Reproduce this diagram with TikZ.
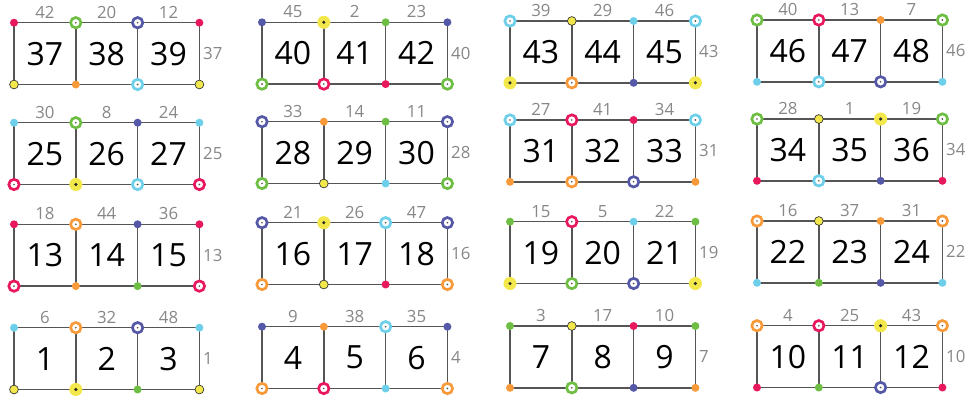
\documentclass[tikz,border=0pt]{standalone}
\usepackage{fontspec}
\setmainfont{Open Sans}
\usetikzlibrary{calc}
\definecolor{cR}{HTML}{E8185C}
\definecolor{cG}{HTML}{6EBE44}
\definecolor{cB}{HTML}{5558A6}
\definecolor{cC}{HTML}{6DCFEA}
\definecolor{cO}{HTML}{F89A3A}
\definecolor{cY}{HTML}{F2E84B}
\definecolor{edgec}{HTML}{555555}
\definecolor{lblc}{HTML}{878787}
\tikzset{
 edgeline/.style={draw=edgec, line width=1.1pt},
 bignum/.style={font=\fontsize{24}{28}\selectfont, text=black, inner sep=0pt},
 toplbl/.style={font=\fontsize{12.6}{15}\selectfont, text=lblc, inner sep=0pt},
 sidelbl/.style={font=\fontsize{12.6}{15}\selectfont, text=lblc, inner sep=0pt, anchor=west},
 fdot/.style={circle, fill=#1, inner sep=0pt, minimum size=6pt},
 rdot/.style={circle, draw=#1, line width=2pt, fill=white, inner sep=0pt, minimum size=7.8pt,
   path picture={\fill[edgec] (path picture bounding box.center) circle (0.7pt);}},
 fR/.style={fdot=cR}, fG/.style={fdot=cG}, fB/.style={fdot=cB},
 fC/.style={fdot=cC}, fO/.style={fdot=cO},
 rR/.style={rdot=cR}, rG/.style={rdot=cG}, rB/.style={rdot=cB},
 rC/.style={rdot=cC}, rO/.style={rdot=cO},
 yy/.style={circle, fill=cY, draw=black!80, line width=0.5pt, inner sep=0pt, minimum size=6.6pt},
 YY/.style={circle, fill=cY, inner sep=0pt, minimum size=9.8pt,
   path picture={\fill[black!85] (path picture bounding box.center) circle (1.3pt);}},
}
\def\sqw{61.8}
\def\sqh{61.8}
% #1 id, #2 x, #3 y, #4 first number
\newcommand\grp[4]{%
 \foreach \i in {0,...,3}{%
   \coordinate (#1t\i) at ({#2+\i*\sqw},#3);
   \coordinate (#1b\i) at ({#2+\i*\sqw},{#3+\sqh});
 }
 \draw[edgeline] (#1t0) -- (#1t3) -- (#1b3) -- (#1b0) -- cycle;
 \draw[edgeline] (#1t1) -- (#1b1) (#1t2) -- (#1b2);
 \node[bignum] (#1n0) at ({#2+0.5*\sqw},{#3+0.5*\sqh}) {#4};
 \node[bignum] (#1n1) at ({#2+1.5*\sqw},{#3+0.5*\sqh}) {\the\numexpr#4+1\relax};
 \node[bignum] (#1n2) at ({#2+2.5*\sqw},{#3+0.5*\sqh}) {\the\numexpr#4+2\relax};
 \node[sidelbl] (#1s) at ({#2+3*\sqw+3.5},{#3+0.5*\sqh}) {#4};
}
% #1 id, #2 #3 #4 top labels
\newcommand\tops[4]{%
 \node[toplbl] (#1l0) at ($(#1t0)!0.5!(#1t1)+(0,-10.5)$) {#2};
 \node[toplbl] (#1l1) at ($(#1t1)!0.5!(#1t2)+(0,-10.5)$) {#3};
 \node[toplbl] (#1l2) at ($(#1t2)!0.5!(#1t3)+(0,-10.5)$) {#4};
}
% #1 id, #2-#5 top dots, #6-#9 bottom dots
\newcommand\crn[9]{%
 \node[#2] (#1dt0) at (#1t0) {};
 \node[#3] (#1dt1) at (#1t1) {};
 \node[#4] (#1dt2) at (#1t2) {};
 \node[#5] (#1dt3) at (#1t3) {};
 \node[#6] (#1db0) at (#1b0) {};
 \node[#7] (#1db1) at (#1b1) {};
 \node[#8] (#1db2) at (#1b2) {};
 \node[#9] (#1db3) at (#1b3) {};
}
\begin{document}
\begin{tikzpicture}[x=0.75pt,y=-0.75pt]
\useasboundingbox (0,0) rectangle (969,400);
% row 1
\grp{a}{14}{22.7}{37}   \tops{a}{42}{20}{12}
\crn{a}{fR}{rG}{rB}{fR}{yy}{fO}{rC}{yy}
\grp{b}{262}{22.3}{40}  \tops{b}{45}{2}{23}
\crn{b}{fB}{YY}{fG}{fB}{rG}{rR}{fR}{rG}
\grp{c}{510}{21}{43}    \tops{c}{39}{29}{46}
\crn{c}{rC}{yy}{fC}{rC}{YY}{rO}{fB}{YY}
\grp{d}{757}{20}{46}    \tops{d}{40}{13}{7}
\crn{d}{rG}{rR}{fO}{rG}{fC}{rC}{rB}{fC}
% row 2
\grp{e}{14}{122.7}{25}  \tops{e}{30}{8}{24}
\crn{e}{fC}{rG}{fB}{fC}{rR}{YY}{rC}{rR}
\grp{f}{262}{121.7}{28} \tops{f}{33}{14}{11}
\crn{f}{rB}{fO}{fG}{rB}{rG}{yy}{fC}{rG}
\grp{g}{510}{120}{31}   \tops{g}{27}{41}{34}
\crn{g}{rC}{rR}{fR}{rC}{fO}{rO}{rB}{fO}
\grp{h}{757}{119}{34}   \tops{h}{28}{1}{19}
\crn{h}{rG}{yy}{YY}{rG}{fR}{rC}{fB}{fR}
% row 3
\grp{i}{14}{224.3}{13}  \tops{i}{18}{44}{36}
\crn{i}{fR}{rO}{fB}{fR}{rR}{fO}{fG}{rR}
\grp{j}{262}{222.7}{16} \tops{j}{21}{26}{47}
\crn{j}{rB}{YY}{rC}{rB}{rO}{yy}{fR}{rO}
\grp{k}{510}{221.7}{19} \tops{k}{15}{5}{22}
\crn{k}{fG}{rR}{fC}{fG}{YY}{rG}{rB}{YY}
\grp{l}{757}{221}{22}   \tops{l}{16}{37}{31}
\crn{l}{rO}{yy}{fO}{rO}{fC}{fG}{fB}{fC}
% row 4
\grp{m}{14}{327.7}{1}   \tops{m}{6}{32}{48}
\crn{m}{fC}{rO}{rB}{fC}{yy}{YY}{fG}{yy}
\grp{n}{262}{326.7}{4}  \tops{n}{9}{38}{35}
\crn{n}{fB}{fO}{rC}{fB}{rO}{rR}{fC}{rO}
\grp{o}{510}{326}{7}    \tops{o}{3}{17}{10}
\crn{o}{fG}{yy}{fR}{fG}{fO}{rG}{fB}{fO}
\grp{p}{757}{325.7}{10} \tops{p}{4}{25}{43}
\crn{p}{rO}{rR}{YY}{rO}{fR}{fG}{rB}{fR}
\end{tikzpicture}
\end{document}
